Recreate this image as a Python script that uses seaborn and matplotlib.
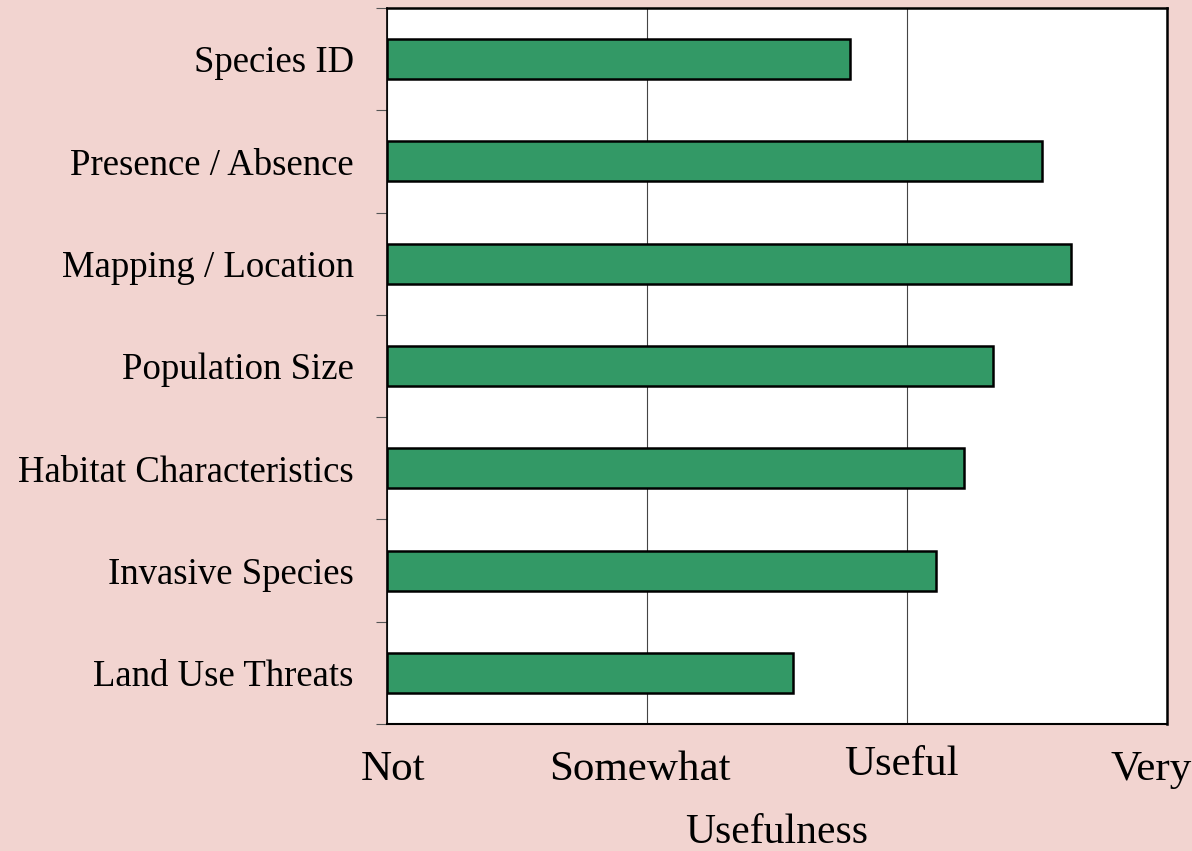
import matplotlib
matplotlib.use("Agg")
import matplotlib.pyplot as plt
import matplotlib.transforms as mtransforms
import seaborn as sns
import pandas as pd
import numpy as np

categories = ["Species ID", "Presence / Absence", "Mapping / Location", "Population Size",
              "Habitat Characteristics", "Invasive Species", "Land Use Threats"]
values = [1.78, 2.52, 2.63, 2.33, 2.22, 2.11, 1.56]
xtick_labels = ["Not", "Somewhat", "Useful", "Very"]

sns.set_style("white")
plt.rcParams['font.family'] = ['Liberation Serif', 'DejaVu Serif']
plt.rcParams['text.color'] = 'black'
plt.rcParams['axes.labelcolor'] = 'black'
plt.rcParams['xtick.color'] = '#555555'
plt.rcParams['ytick.color'] = '#555555'
plt.rcParams['xtick.labelcolor'] = 'black'
plt.rcParams['ytick.labelcolor'] = 'black'

bg = "#F2D4D0"
fig = plt.figure(figsize=(11.92, 8.51), dpi=100, facecolor=bg)
ax = fig.add_axes([387/1192, 1-724/851, (1167-387)/1192, (724-8)/851])
ax.set_facecolor("white")

df = pd.DataFrame({"cat": categories, "val": values})
sns.barplot(data=df, x="val", y="cat", orient="h", color="#339966", saturation=1,
            width=0.39, edgecolor="black", linewidth=1.8, ax=ax, zorder=3)

ax.set_xlim(0, 3)
ax.set_ylim(len(categories) - 0.5, -0.5)
ax.set_xticks(range(4))
ax.set_xticklabels(xtick_labels, fontsize=31)
ax.xaxis.grid(True, color="#444444", linewidth=0.8, zorder=0)
ax.set_axisbelow(True)
ax.tick_params(axis="x", length=8, width=0.8, pad=11)
ax.set_xlabel("Usefulness", fontsize=30, labelpad=18)
ax.set_ylabel("")

ax.set_yticks(range(len(categories)))
ax.set_yticklabels(categories, fontsize=26.5)
ax.tick_params(axis="y", which="major", length=0, pad=24)
ax.set_yticks(np.arange(-0.5, len(categories), 1.0), minor=True)
ax.tick_params(axis="y", which="minor", length=8, width=0.8, left=True)

for s in ax.spines.values():
    s.set_visible(True)
    s.set_color("black")
    s.set_linewidth(1.8)
ax.spines["left"].set_linewidth(1.2)
ax.spines["bottom"].set_linewidth(1.5)

# small per-label shifts (pixels) as in the original
shifts = [(6, 0), (-7, 0), (-6, 5), (-16, 0)]
for lbl, (dx, dy) in zip(ax.get_xticklabels(), shifts):
    lbl.set_transform(lbl.get_transform() +
                      mtransforms.ScaledTranslation(dx/100, dy/100, fig.dpi_scale_trans))

fig.savefig("out.png", dpi=100, facecolor=bg)
